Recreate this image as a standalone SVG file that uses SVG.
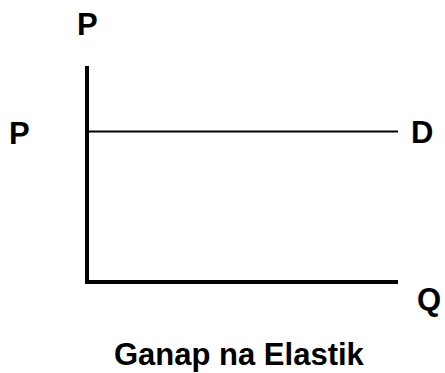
<svg xmlns="http://www.w3.org/2000/svg" width="445" height="373" viewBox="0 0 445 373">
<style>
.lbl{font-family:"Liberation Sans",Arial,sans-serif;font-weight:bold;font-size:31px;fill:#000}
.ax{stroke:#000;stroke-width:4;fill:none}
.dl{stroke:#000;stroke-width:2;fill:none}
</style>
<rect width="445" height="373" fill="#fff"/>
<g id="connectors">
<line class="ax" x1="87" y1="66" x2="87" y2="284"/>
<line class="ax" x1="85" y1="282" x2="398" y2="282"/>
<line class="dl" x1="89" y1="131.5" x2="398" y2="131.5"/>
</g>
<g id="axis-p"><text class="lbl" x="77" y="35">P</text></g>
<g id="price-p"><text class="lbl" x="9" y="144">P</text></g>
<g id="demand-d"><text class="lbl" x="411" y="143">D</text></g>
<g id="axis-q"><text class="lbl" x="417" y="310">Q</text></g>
<g id="title"><text class="lbl" x="114" y="365">Ganap na Elastik</text></g>
</svg>
